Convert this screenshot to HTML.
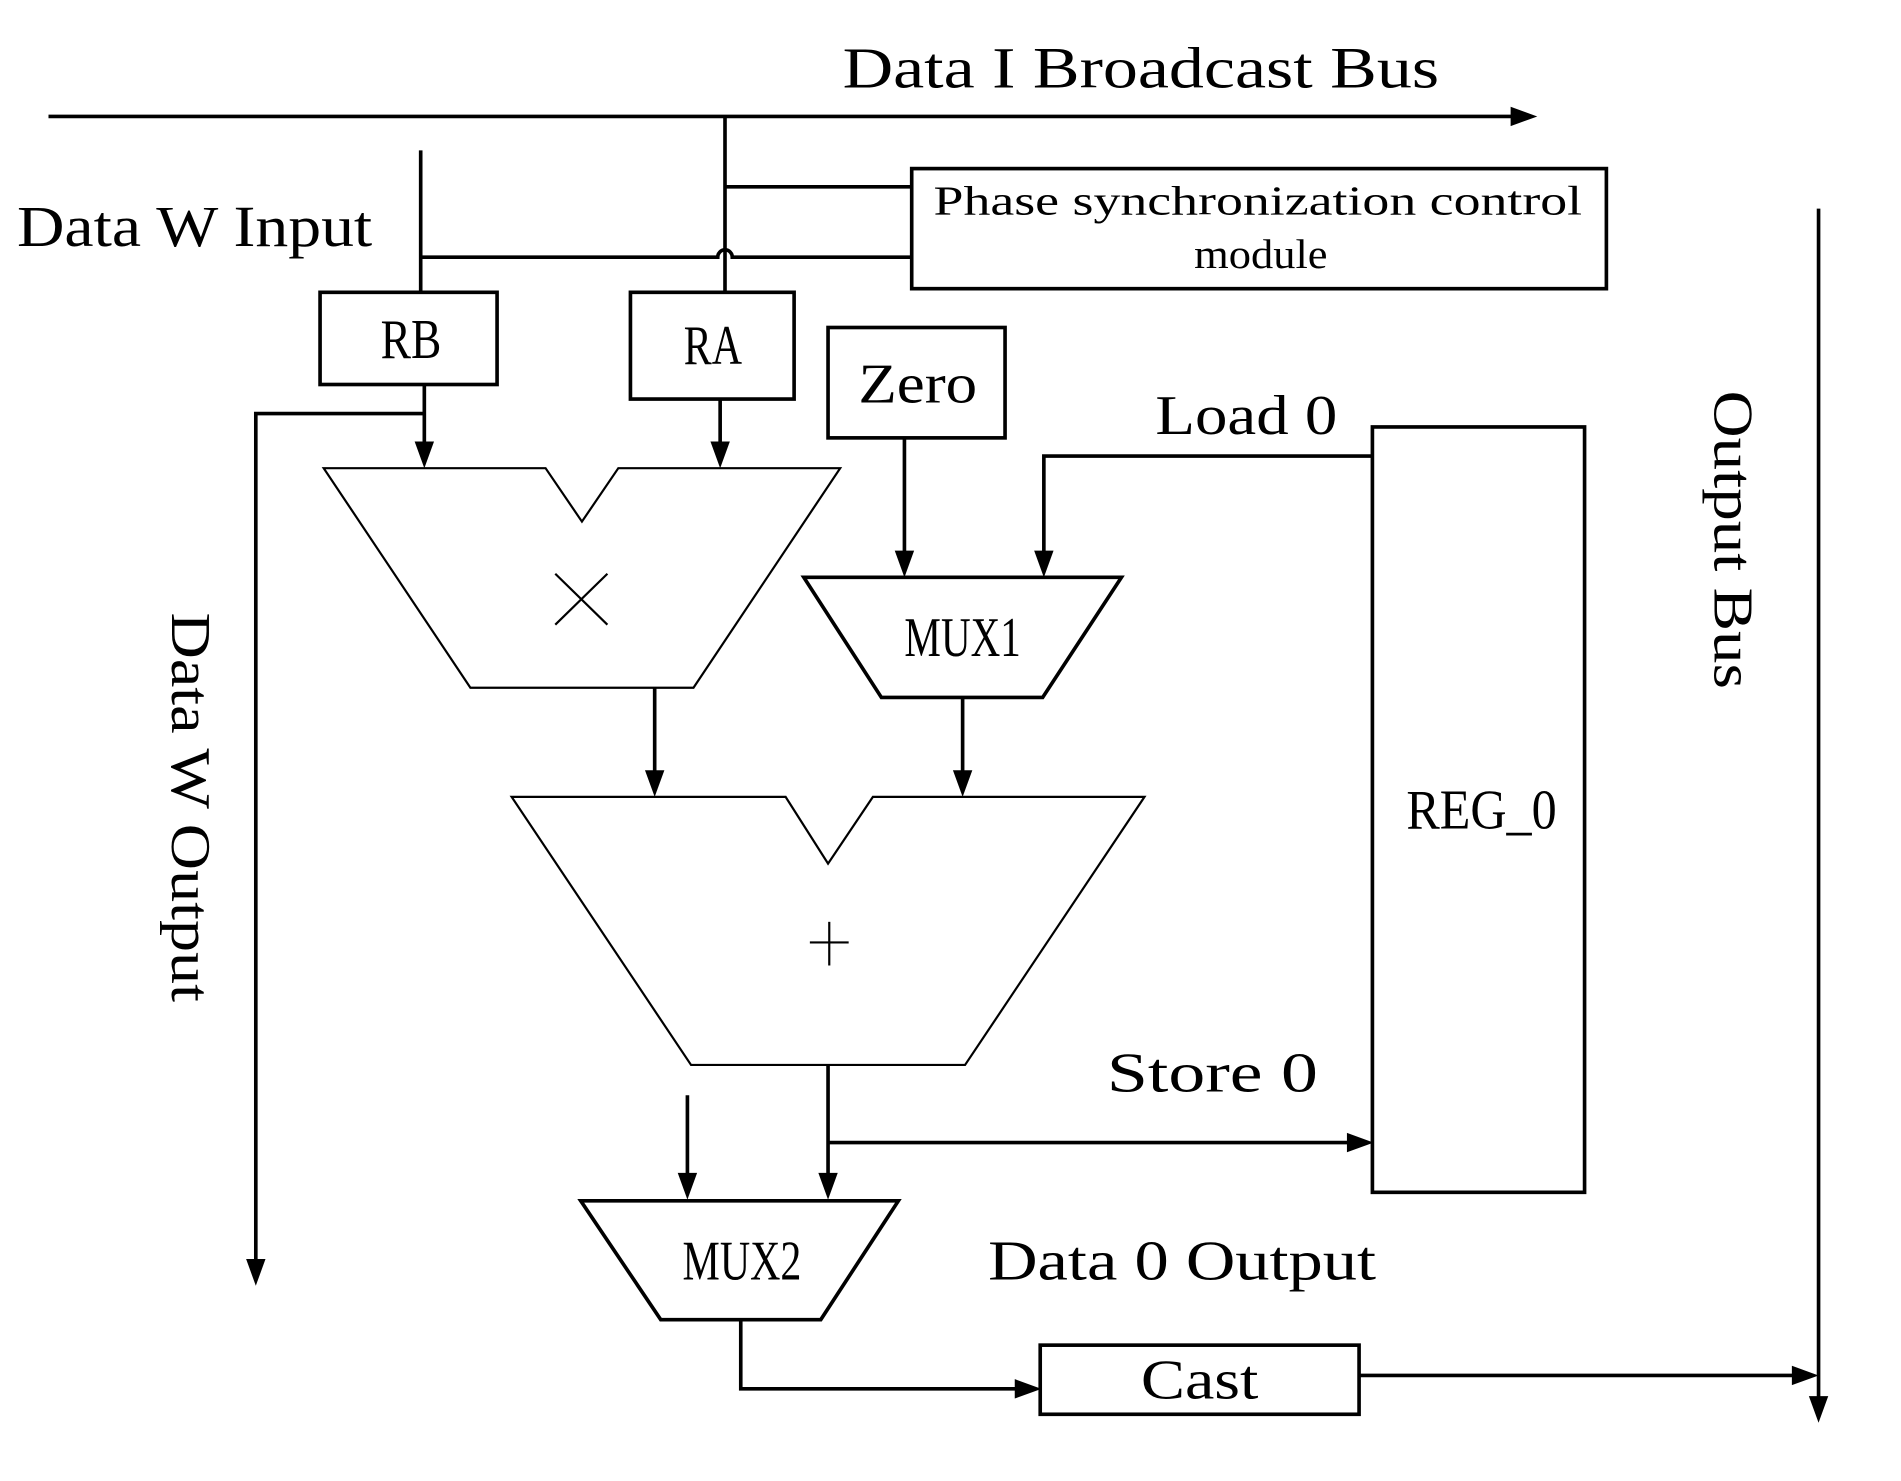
<!DOCTYPE html>
<html><head><meta charset="utf-8"><style>html,body{margin:0;padding:0;background:#fff}svg{display:block}</style></head>
<body>
<svg width="1901" height="1481" viewBox="0 0 1568 1221" preserveAspectRatio="none" xmlns="http://www.w3.org/2000/svg">
<g fill="none" stroke="#000" stroke-width="3">
<line x1="40" y1="96" x2="1252" y2="96"/>
<line x1="598" y1="96" x2="598" y2="241"/>
<line x1="598" y1="154" x2="752" y2="154"/>
<line x1="347" y1="124" x2="347" y2="241"/>
<path d="M347 212 H592 A6 6 0 0 1 604 212 H752"/>
<rect x="752" y="139" width="573" height="99"/>
<rect x="264" y="241" width="146" height="76"/>
<rect x="520" y="241" width="135" height="88"/>
<rect x="683" y="270" width="146" height="91"/>
<line x1="350" y1="317" x2="350" y2="370"/>
<polyline points="350,341 211,341 211,1045"/>
<line x1="594" y1="329" x2="594" y2="370"/>
<line x1="746" y1="361" x2="746" y2="461"/>
<polyline points="1132,376 861,376 861,461"/>
<polygon points="663,476 925,476 860,575 727,575"/>
<line x1="540" y1="567" x2="540" y2="641"/>
<line x1="794" y1="575" x2="794" y2="641"/>
<line x1="683" y1="878" x2="683" y2="973"/>
<line x1="683" y1="942" x2="1117" y2="942"/>
<line x1="567" y1="903" x2="567" y2="973"/>
<polygon points="479,990 741,990 677,1088 545,1088"/>
<polyline points="611,1088 611,1145 843,1145"/>
<rect x="858" y="1109" width="263" height="57"/>
<line x1="1121" y1="1134" x2="1485" y2="1134"/>
<line x1="1500" y1="172" x2="1500" y2="1157"/>
<rect x="1132" y="352" width="175" height="631"/>
</g>
<g fill="none" stroke="#000" stroke-width="1.8">
<polygon points="267,386 450,386 480,430 510,386 693,386 572,567 388,567"/>
<polygon points="422,657 648,657 683,712 720,657 944,657 796,878 570,878"/>
<line x1="458" y1="473" x2="501" y2="515"/><line x1="501" y1="473" x2="458" y2="515"/>
<line x1="668" y1="777" x2="700" y2="777"/><line x1="684" y1="760" x2="684" y2="796"/>
</g>
<g fill="#000">
<polygon points="1268,96 1246,88 1246,104"/>
<polygon points="350,386 342,364 358,364"/>
<polygon points="211,1060 203,1038 219,1038"/>
<polygon points="594,386 586,364 602,364"/>
<polygon points="746,476 738,454 754,454"/>
<polygon points="861,476 853,454 869,454"/>
<polygon points="540,657 532,635 548,635"/>
<polygon points="794,657 786,635 802,635"/>
<polygon points="683,989 675,967 691,967"/>
<polygon points="567,989 559,967 575,967"/>
<polygon points="1133,942 1111,934 1111,950"/>
<polygon points="859,1145 837,1137 837,1153"/>
<polygon points="1500,1134 1478,1126 1478,1142"/>
<polygon points="1500,1173 1492,1151 1508,1151"/>
</g>
<g font-family="Liberation Serif, serif" fill="#000">
<text x="695" y="72" font-size="48" textLength="492" lengthAdjust="spacingAndGlyphs">Data I Broadcast Bus</text>
<text x="14" y="203" font-size="48" textLength="293" lengthAdjust="spacingAndGlyphs">Data W Input</text>
<text x="770" y="177" font-size="34" textLength="535" lengthAdjust="spacingAndGlyphs">Phase synchronization control</text>
<text x="985" y="221" font-size="34" textLength="110" lengthAdjust="spacingAndGlyphs">module</text>
<text x="314" y="295" font-size="46" textLength="50" lengthAdjust="spacingAndGlyphs">RB</text>
<text x="564" y="300" font-size="46" textLength="48" lengthAdjust="spacingAndGlyphs">RA</text>
<text x="708" y="332" font-size="46" textLength="98" lengthAdjust="spacingAndGlyphs">Zero</text>
<text x="953" y="358" font-size="46" textLength="150" lengthAdjust="spacingAndGlyphs">Load 0</text>
<text x="746" y="541" font-size="46" textLength="96" lengthAdjust="spacingAndGlyphs">MUX1</text>
<text x="1160" y="683" font-size="46" textLength="124" lengthAdjust="spacingAndGlyphs">REG_0</text>
<text x="913" y="900" font-size="46" textLength="174" lengthAdjust="spacingAndGlyphs">Store 0</text>
<text x="563" y="1055" font-size="46" textLength="98" lengthAdjust="spacingAndGlyphs">MUX2</text>
<text x="815" y="1055" font-size="46" textLength="320" lengthAdjust="spacingAndGlyphs">Data 0 Output</text>
<text x="941" y="1153" font-size="46" textLength="97" lengthAdjust="spacingAndGlyphs">Cast</text>
<text transform="translate(1414,322) rotate(90)" font-size="46" textLength="246" lengthAdjust="spacingAndGlyphs">Output Bus</text>
<text transform="translate(142,505) rotate(90)" font-size="46" textLength="321" lengthAdjust="spacingAndGlyphs">Data W Output</text>
</g>
</svg>
</body></html>
